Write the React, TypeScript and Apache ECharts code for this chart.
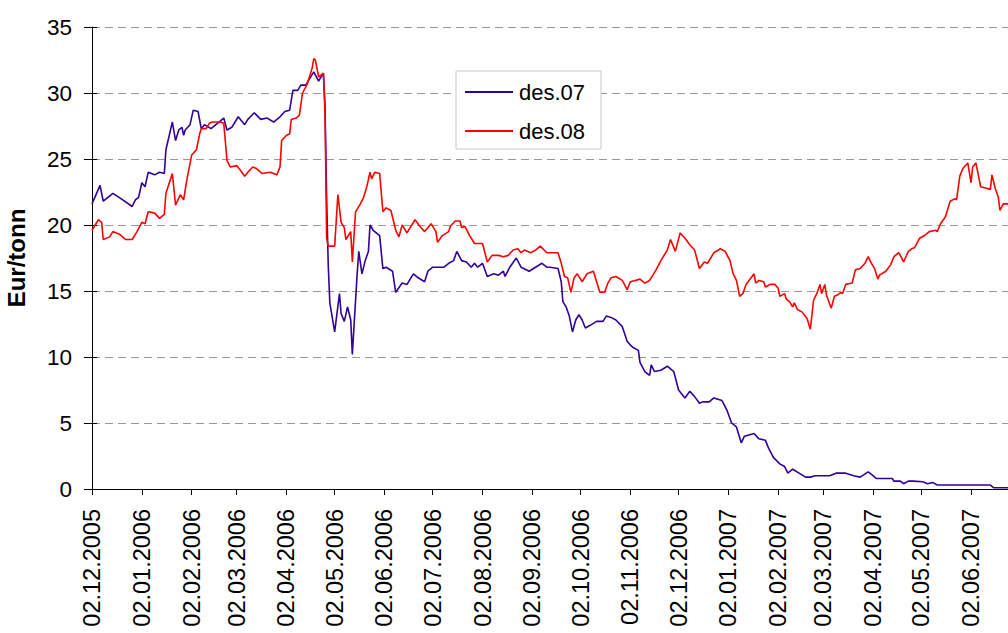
import React, { useEffect, useRef } from "react";
import * as echarts from "echarts";

const startDate = "2005-12-02";
const endDate = "2007-06-25";
const yTicks = { min: 0, max: 35, interval: 5 };
const yTitle = "Eur/tonn";
const seriesNames = ["des.07", "des.08"];

const des07: [string, number][] = [
  ["02.12.2005", 21.6], ["07.12.2005", 23.0], ["09.12.2005", 21.8], ["15.12.2005", 22.4],
  ["20.12.2005", 22.0], ["27.12.2005", 21.4], ["29.12.2005", 21.9], ["31.12.2005", 22.1],
  ["02.01.2006", 23.2], ["04.01.2006", 22.9], ["06.01.2006", 24.0], ["10.01.2006", 23.8],
  ["13.01.2006", 24.0], ["16.01.2006", 23.9], ["17.01.2006", 25.7], ["21.01.2006", 27.8],
  ["23.01.2006", 26.4], ["25.01.2006", 27.2], ["27.01.2006", 27.4], ["28.01.2006", 26.8],
  ["29.01.2006", 27.2], ["01.02.2006", 27.6], ["03.02.2006", 28.7], ["06.02.2006", 28.6],
  ["08.02.2006", 27.3], ["10.02.2006", 27.6], ["14.02.2006", 27.3], ["19.02.2006", 27.8],
  ["22.02.2006", 28.1], ["24.02.2006", 27.2], ["27.02.2006", 27.4], ["03.03.2006", 28.2],
  ["07.03.2006", 27.6], ["09.03.2006", 28.0], ["13.03.2006", 28.5], ["17.03.2006", 28.0],
  ["21.03.2006", 28.1], ["25.03.2006", 27.8], ["29.03.2006", 28.2], ["01.04.2006", 28.6],
  ["04.04.2006", 28.7], ["06.04.2006", 30.2], ["09.04.2006", 30.2], ["11.04.2006", 30.6],
  ["14.04.2006", 30.6], ["17.04.2006", 31.2], ["19.04.2006", 31.6], ["22.04.2006", 30.9],
  ["25.04.2006", 31.5], ["26.04.2006", 29.0], ["27.04.2006", 22.0], ["28.04.2006", 17.0],
  ["29.04.2006", 14.1], ["02.05.2006", 11.9], ["05.05.2006", 14.8], ["06.05.2006", 13.3],
  ["08.05.2006", 12.7], ["10.05.2006", 13.8], ["12.05.2006", 12.8], ["13.05.2006", 10.2],
  ["16.05.2006", 16.3], ["17.05.2006", 18.0], ["19.05.2006", 16.3], ["21.05.2006", 17.3],
  ["23.05.2006", 18.0], ["24.05.2006", 20.0], ["26.05.2006", 19.6], ["30.05.2006", 19.2],
  ["01.06.2006", 16.7], ["03.06.2006", 16.8], ["07.06.2006", 16.5], ["09.06.2006", 14.9],
  ["13.06.2006", 15.6], ["16.06.2006", 15.5], ["20.06.2006", 16.3], ["23.06.2006", 16.0],
  ["27.06.2006", 15.7], ["29.06.2006", 16.5], ["02.07.2006", 16.8], ["05.07.2006", 16.8],
  ["09.07.2006", 16.8], ["12.07.2006", 17.1], ["15.07.2006", 17.3], ["17.07.2006", 18.0],
  ["20.07.2006", 17.3], ["23.07.2006", 17.2], ["26.07.2006", 16.8], ["28.07.2006", 17.1],
  ["30.07.2006", 16.8], ["02.08.2006", 17.1], ["05.08.2006", 16.1], ["09.08.2006", 16.3],
  ["12.08.2006", 16.2], ["15.08.2006", 16.5], ["16.08.2006", 16.1], ["19.08.2006", 16.8],
  ["23.08.2006", 17.5], ["26.08.2006", 16.8], ["31.08.2006", 16.5], ["04.09.2006", 16.8],
  ["08.09.2006", 17.1], ["11.09.2006", 16.8], ["13.09.2006", 16.8], ["18.09.2006", 16.7],
  ["20.09.2006", 15.7], ["21.09.2006", 14.2], ["23.09.2006", 13.8], ["25.09.2006", 13.1],
  ["27.09.2006", 11.9], ["29.09.2006", 12.8], ["01.10.2006", 13.2], ["03.10.2006", 12.8],
  ["05.10.2006", 12.2], ["08.10.2006", 12.4], ["12.10.2006", 12.7], ["16.10.2006", 12.7],
  ["18.10.2006", 13.1], ["21.10.2006", 13.0], ["24.10.2006", 12.8], ["28.10.2006", 12.3],
  ["31.10.2006", 11.2], ["02.11.2006", 10.9], ["04.11.2006", 10.7], ["07.11.2006", 10.5],
  ["08.11.2006", 9.6], ["11.11.2006", 8.9], ["14.11.2006", 8.6], ["15.11.2006", 9.4],
  ["17.11.2006", 8.9], ["21.11.2006", 9.0], ["25.11.2006", 9.3], ["29.11.2006", 8.9],
  ["02.12.2006", 7.5], ["06.12.2006", 6.9], ["09.12.2006", 7.4], ["12.12.2006", 7.0],
  ["15.12.2006", 6.5], ["17.12.2006", 6.6], ["21.12.2006", 6.6], ["24.12.2006", 6.9],
  ["29.12.2006", 6.7], ["01.01.2007", 6.0], ["04.01.2007", 5.0], ["07.01.2007", 4.7],
  ["10.01.2007", 3.5], ["12.01.2007", 4.0], ["18.01.2007", 4.2], ["21.01.2007", 3.8],
  ["25.01.2007", 3.7], ["27.01.2007", 3.1], ["30.01.2007", 2.4], ["03.02.2007", 1.9],
  ["06.02.2007", 1.7], ["08.02.2007", 1.2], ["11.02.2007", 1.5], ["15.02.2007", 1.2],
  ["19.02.2007", 0.9], ["22.02.2007", 0.9], ["25.02.2007", 1.0], ["06.03.2007", 1.0],
  ["10.03.2007", 1.2], ["16.03.2007", 1.2], ["21.03.2007", 1.0], ["25.03.2007", 0.9],
  ["30.03.2007", 1.3], ["01.04.2007", 1.1], ["04.04.2007", 0.8], ["14.04.2007", 0.8],
  ["15.04.2007", 0.6], ["19.04.2007", 0.6], ["21.04.2007", 0.4], ["24.04.2007", 0.6],
  ["27.04.2007", 0.6], ["03.05.2007", 0.55], ["06.05.2007", 0.4], ["09.05.2007", 0.5],
  ["12.05.2007", 0.3], ["14.06.2007", 0.3], ["16.06.2007", 0.1], ["25.06.2007", 0.1],
];

const des08: [string, number][] = [
  ["02.12.2005", 19.6], ["06.12.2005", 20.4], ["08.12.2005", 20.2], ["09.12.2005", 18.9],
  ["13.12.2005", 19.1], ["15.12.2005", 19.5], ["19.12.2005", 19.3], ["23.12.2005", 18.9],
  ["27.12.2005", 18.9], ["30.12.2005", 19.5], ["02.01.2006", 20.2], ["04.01.2006", 20.1],
  ["06.01.2006", 21.0], ["10.01.2006", 20.9], ["13.01.2006", 20.5], ["16.01.2006", 20.8],
  ["17.01.2006", 22.4], ["21.01.2006", 23.9], ["23.01.2006", 21.5], ["26.01.2006", 22.3],
  ["28.01.2006", 21.9], ["30.01.2006", 23.4], ["02.02.2006", 25.3], ["05.02.2006", 25.7],
  ["07.02.2006", 26.9], ["08.02.2006", 27.3], ["11.02.2006", 27.3], ["13.02.2006", 27.7],
  ["15.02.2006", 27.8], ["20.02.2006", 27.8], ["22.02.2006", 27.7], ["24.02.2006", 24.9],
  ["26.02.2006", 24.4], ["02.03.2006", 24.5], ["04.03.2006", 24.2], ["07.03.2006", 23.7],
  ["09.03.2006", 24.0], ["12.03.2006", 24.4], ["14.03.2006", 24.3], ["18.03.2006", 23.9],
  ["23.03.2006", 24.0], ["27.03.2006", 23.8], ["29.03.2006", 24.4], ["30.03.2006", 26.4],
  ["02.04.2006", 26.8], ["04.04.2006", 26.9], ["05.04.2006", 28.0], ["08.04.2006", 28.1],
  ["10.04.2006", 28.3], ["12.04.2006", 30.0], ["15.04.2006", 30.7], ["18.04.2006", 31.9],
  ["19.04.2006", 32.6], ["20.04.2006", 32.5], ["22.04.2006", 31.2], ["25.04.2006", 31.5],
  ["26.04.2006", 28.5], ["27.04.2006", 19.0], ["28.04.2006", 18.4], ["02.05.2006", 18.4],
  ["04.05.2006", 22.3], ["06.05.2006", 20.2], ["08.05.2006", 19.8], ["09.05.2006", 18.9],
  ["12.05.2006", 19.5], ["13.05.2006", 17.2], ["15.05.2006", 21.0], ["18.05.2006", 21.6],
  ["20.05.2006", 22.1], ["22.05.2006", 22.9], ["24.05.2006", 24.0], ["25.05.2006", 23.5],
  ["27.05.2006", 24.0], ["30.05.2006", 23.9], ["01.06.2006", 21.0], ["03.06.2006", 21.3],
  ["06.06.2006", 21.1], ["09.06.2006", 19.6], ["11.06.2006", 19.1], ["13.06.2006", 20.0],
  ["16.06.2006", 19.4], ["21.06.2006", 20.4], ["24.06.2006", 19.9], ["27.06.2006", 19.5],
  ["01.07.2006", 20.1], ["04.07.2006", 19.5], ["05.07.2006", 18.7], ["08.07.2006", 19.2],
  ["12.07.2006", 19.5], ["13.07.2006", 19.9], ["16.07.2006", 20.3], ["19.07.2006", 20.3],
  ["20.07.2006", 19.8], ["22.07.2006", 19.9], ["25.07.2006", 19.2], ["28.07.2006", 18.6],
  ["02.08.2006", 18.6], ["05.08.2006", 17.2], ["08.08.2006", 17.7], ["12.08.2006", 17.7],
  ["15.08.2006", 17.6], ["18.08.2006", 17.7], ["21.08.2006", 18.1], ["24.08.2006", 18.2],
  ["26.08.2006", 17.9], ["28.08.2006", 18.1], ["01.09.2006", 17.9], ["04.09.2006", 18.1],
  ["07.09.2006", 18.4], ["11.09.2006", 17.9], ["13.09.2006", 17.9], ["18.09.2006", 17.9],
  ["20.09.2006", 17.1], ["22.09.2006", 16.1], ["24.09.2006", 16.0], ["26.09.2006", 14.9],
  ["28.09.2006", 16.0], ["30.09.2006", 16.3], ["03.10.2006", 15.7], ["06.10.2006", 16.3],
  ["10.10.2006", 16.5], ["12.10.2006", 15.7], ["14.10.2006", 14.9], ["17.10.2006", 14.9],
  ["19.10.2006", 15.6], ["21.10.2006", 16.0], ["24.10.2006", 16.1], ["28.10.2006", 15.8],
  ["31.10.2006", 15.1], ["02.11.2006", 15.7], ["05.11.2006", 15.8], ["08.11.2006", 15.9],
  ["11.11.2006", 15.6], ["14.11.2006", 15.8], ["18.11.2006", 16.6], ["21.11.2006", 17.3],
  ["25.11.2006", 18.1], ["27.11.2006", 18.9], ["30.11.2006", 18.0], ["03.12.2006", 19.4],
  ["06.12.2006", 19.0], ["09.12.2006", 18.5], ["12.12.2006", 18.1], ["15.12.2006", 16.7],
  ["18.12.2006", 17.2], ["20.12.2006", 17.1], ["24.12.2006", 17.9], ["28.12.2006", 18.2],
  ["31.12.2006", 18.0], ["03.01.2007", 17.3], ["05.01.2007", 16.3], ["07.01.2007", 15.8],
  ["09.01.2007", 14.6], ["11.01.2007", 14.8], ["13.01.2007", 15.5], ["18.01.2007", 16.3],
  ["19.01.2007", 15.6], ["21.01.2007", 15.8], ["24.01.2007", 15.7], ["25.01.2007", 15.3],
  ["28.01.2007", 15.5], ["31.01.2007", 15.5], ["02.02.2007", 15.2], ["03.02.2007", 14.6],
  ["06.02.2007", 14.8], ["07.02.2007", 14.4], ["09.02.2007", 14.2], ["11.02.2007", 13.8],
  ["12.02.2007", 14.1], ["14.02.2007", 13.6], ["17.02.2007", 13.4], ["20.02.2007", 12.9],
  ["22.02.2007", 12.1], ["24.02.2007", 14.3], ["26.02.2007", 14.8], ["28.02.2007", 15.5],
  ["01.03.2007", 14.8], ["03.03.2007", 15.5], ["04.03.2007", 14.7], ["07.03.2007", 13.7],
  ["09.03.2007", 14.6], ["11.03.2007", 14.7], ["13.03.2007", 14.9], ["14.03.2007", 14.8],
  ["16.03.2007", 15.5], ["20.03.2007", 15.6], ["22.03.2007", 16.6], ["25.03.2007", 16.7],
  ["28.03.2007", 17.1], ["30.03.2007", 17.6], ["01.04.2007", 17.1], ["03.04.2007", 16.7],
  ["05.04.2007", 15.9], ["06.04.2007", 16.2], ["10.04.2007", 16.5], ["13.04.2007", 17.0],
  ["15.04.2007", 17.6], ["18.04.2007", 17.9], ["19.04.2007", 17.7], ["21.04.2007", 17.2],
  ["24.04.2007", 18.0], ["26.04.2007", 18.2], ["28.04.2007", 18.3], ["01.05.2007", 19.0],
  ["04.05.2007", 19.2], ["07.05.2007", 19.5], ["11.05.2007", 19.6], ["12.05.2007", 19.5],
  ["14.05.2007", 20.1], ["17.05.2007", 20.6], ["20.05.2007", 21.8], ["23.05.2007", 22.0],
  ["24.05.2007", 21.9], ["26.05.2007", 23.7], ["28.05.2007", 24.3], ["31.05.2007", 24.7],
  ["02.06.2007", 23.2], ["03.06.2007", 24.4], ["05.06.2007", 24.7], ["08.06.2007", 22.9],
  ["11.06.2007", 22.8], ["14.06.2007", 22.7], ["15.06.2007", 23.8], ["17.06.2007", 22.8],
  ["19.06.2007", 22.1], ["20.06.2007", 21.1], ["22.06.2007", 21.6], ["25.06.2007", 21.6],
];

function buildDays(start: string, end: string): string[] {
  const out: string[] = [];
  const d = new Date(start + "T00:00:00Z");
  const e = new Date(end + "T00:00:00Z");
  while (d.getTime() <= e.getTime()) {
    const dd = String(d.getUTCDate()).padStart(2, "0");
    const mm = String(d.getUTCMonth() + 1).padStart(2, "0");
    out.push(`${dd}.${mm}.${d.getUTCFullYear()}`);
    d.setUTCDate(d.getUTCDate() + 1);
  }
  return out;
}

export default function App() {
  const ref = useRef<HTMLDivElement>(null);
  useEffect(() => {
    if (!ref.current) return;
    const chart = echarts.init(ref.current, undefined, { renderer: "svg" });
    const days = buildDays(startDate, endDate);
    const isMonthTick = (_i: number, v: string) => v.startsWith("02.");
    const font = "'Liberation Sans', Arial, sans-serif";
    chart.setOption({
      animation: false,
      backgroundColor: "#ffffff",
      grid: {
        left: 92,
        right: 0,
        top: 27,
        bottom: 144,
        containLabel: false,
        outerBoundsMode: "none",
      },
      legend: {
        orient: "vertical",
        left: 456,
        top: 71,
        padding: [10, 16, 7, 9],
        borderColor: "#c8c8c8",
        borderWidth: 1,
        backgroundColor: "#ffffff",
        icon: "rect",
        itemWidth: 48,
        itemHeight: 2,
        itemGap: 17,
        textStyle: { fontFamily: font, fontSize: 22, color: "#000", padding: [0, 0, 0, 1] },
        data: seriesNames,
      },
      xAxis: {
        type: "category",
        data: days,
        boundaryGap: false,
        axisLine: { show: true, lineStyle: { color: "#000", width: 1 } },
        axisTick: { show: true, interval: isMonthTick, length: 6, lineStyle: { color: "#000" } },
        axisLabel: {
          interval: isMonthTick,
          rotate: 90,
          margin: 20,
          fontFamily: font,
          fontSize: 23.5,
          color: "#000",
        },
        splitLine: { show: false },
      },
      yAxis: [
        {
          type: "value",
          min: yTicks.min,
          max: yTicks.max,
          interval: yTicks.interval,
          name: yTitle,
          nameLocation: "middle",
          nameRotate: 90,
          nameGap: 64,
          nameTextStyle: { fontFamily: font, fontSize: 24, fontWeight: "bold", color: "#000" },
          axisLine: { show: true, lineStyle: { color: "#000", width: 1 } },
          axisTick: { show: true, length: 8, lineStyle: { color: "#000" } },
          axisLabel: { fontFamily: font, fontSize: 22.5, color: "#000", margin: 20 },
          splitLine: { show: true, lineStyle: { color: "#999", type: [8, 5], width: 1 } },
        },
        {
          type: "value",
          position: "left",
          min: yTicks.min,
          max: yTicks.max,
          interval: yTicks.interval,
          axisLine: { show: false },
          axisTick: { show: true, inside: true, length: 5, lineStyle: { color: "#000" } },
          axisLabel: { show: false },
          splitLine: { show: false },
        },
      ],
      series: [
        {
          name: seriesNames[0],
          type: "line",
          data: des07,
          symbol: "none",
          lineStyle: { color: "#330099", width: 1.6 },
          itemStyle: { color: "#330099" },
        },
        {
          name: seriesNames[1],
          type: "line",
          data: des08,
          symbol: "none",
          lineStyle: { color: "#ff0000", width: 1.6 },
          itemStyle: { color: "#ff0000" },
        },
      ],
    });
    return () => chart.dispose();
  }, []);
  return (
    <div
      ref={ref}
      style={{ position: "fixed", left: 0, top: 0, width: 1008, height: 633, background: "#fff" }}
    />
  );
}
